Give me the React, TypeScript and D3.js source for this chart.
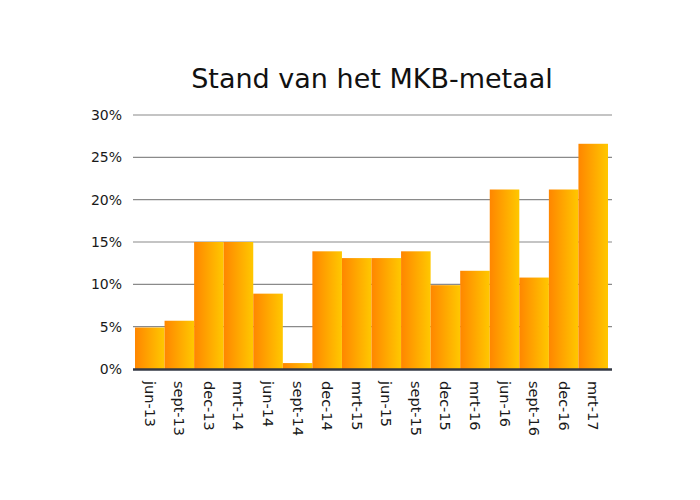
import { useEffect, useRef } from "react";
import * as d3 from "d3";

const categories = [
  "jun-13", "sept-13", "dec-13", "mrt-14", "jun-14", "sept-14", "dec-14", "mrt-15",
  "jun-15", "sept-15", "dec-15", "mrt-16", "jun-16", "sept-16", "dec-16", "mrt-17",
];
const values = [4.9, 5.7, 15, 15, 8.9, 0.7, 13.9, 13.1, 13.1, 13.9, 9.9, 11.6, 21.2, 10.8, 21.2, 26.6];
const yTicks = [0, 5, 10, 15, 20, 25, 30];

const App = () => {
  const ref = useRef<SVGSVGElement>(null);

  useEffect(() => {
    if (!ref.current) return;
    const svg = d3.select(ref.current);
    svg.selectAll("*").remove();

    const width = 700;
    const height = 500;
    const margin = { left: 133, right: 88, top: 115, bottom: 131 };

    const x = d3
      .scaleBand<string>()
      .domain(categories)
      .range([135, 608])
      .padding(0);
    const y = d3
      .scaleLinear()
      .domain([0, 30])
      .range([height - margin.bottom, margin.top]);

    const defs = svg.append("defs");
    const grad = defs
      .append("linearGradient")
      .attr("id", "barGrad")
      .attr("x1", "0%")
      .attr("x2", "100%")
      .attr("y1", "0%")
      .attr("y2", "0%");
    grad.append("stop").attr("offset", "0%").attr("stop-color", "#ff8600");
    grad.append("stop").attr("offset", "100%").attr("stop-color", "#ffc800");

    svg
      .append("rect")
      .attr("width", width)
      .attr("height", height)
      .attr("fill", "#ffffff");

    // title
    svg
      .append("text")
      .attr("x", 372)
      .attr("y", 88)
      .attr("text-anchor", "middle")
      .attr("font-family", "DejaVu Sans, Verdana, sans-serif")
      .attr("font-size", 27)
      .attr("fill", "#111")
      .text("Stand van het MKB-metaal");

    // grid lines
    svg
      .append("g")
      .selectAll("line")
      .data(yTicks.filter((t) => t > 0))
      .enter()
      .append("line")
      .attr("x1", margin.left)
      .attr("x2", width - margin.right)
      .attr("y1", (d) => y(d))
      .attr("y2", (d) => y(d))
      .attr("stroke", "#8a8a8a")
      .attr("stroke-width", 1.2);

    // y labels
    svg
      .append("g")
      .selectAll("text")
      .data(yTicks)
      .enter()
      .append("text")
      .attr("x", 122)
      .attr("y", (d) => y(d) + 5)
      .attr("text-anchor", "end")
      .attr("font-family", "DejaVu Sans, Verdana, sans-serif")
      .attr("font-size", 14)
      .attr("fill", "#1a1a1a")
      .text((d) => `${d}%`);

    // bars
    svg
      .append("g")
      .selectAll("rect")
      .data(values)
      .enter()
      .append("rect")
      .attr("x", (_d, i) => x(categories[i])!)
      .attr("width", x.bandwidth())
      .attr("y", (d) => y(d))
      .attr("height", (d) => y(0) - y(d))
      .attr("fill", "url(#barGrad)");

    // baseline
    svg
      .append("line")
      .attr("x1", margin.left)
      .attr("x2", width - margin.right)
      .attr("y1", y(0) + 0.5)
      .attr("y2", y(0) + 0.5)
      .attr("stroke", "#333844")
      .attr("stroke-width", 2.5);

    // x labels rotated
    svg
      .append("g")
      .selectAll("text")
      .data(categories)
      .enter()
      .append("text")
      .attr(
        "transform",
        (d) => `translate(${x(d)! + x.bandwidth() / 2 - 5}, ${y(0) + 12}) rotate(90)`
      )
      .attr("text-anchor", "start")
      .attr("font-family", "DejaVu Sans, Verdana, sans-serif")
      .attr("font-size", 14.5)
      .attr("fill", "#1a1a1a")
      .text((d) => d);
  }, []);

  return <svg ref={ref} width={700} height={500} style={{ display: "block", margin: -8 }}></svg>;
};

export default App;
